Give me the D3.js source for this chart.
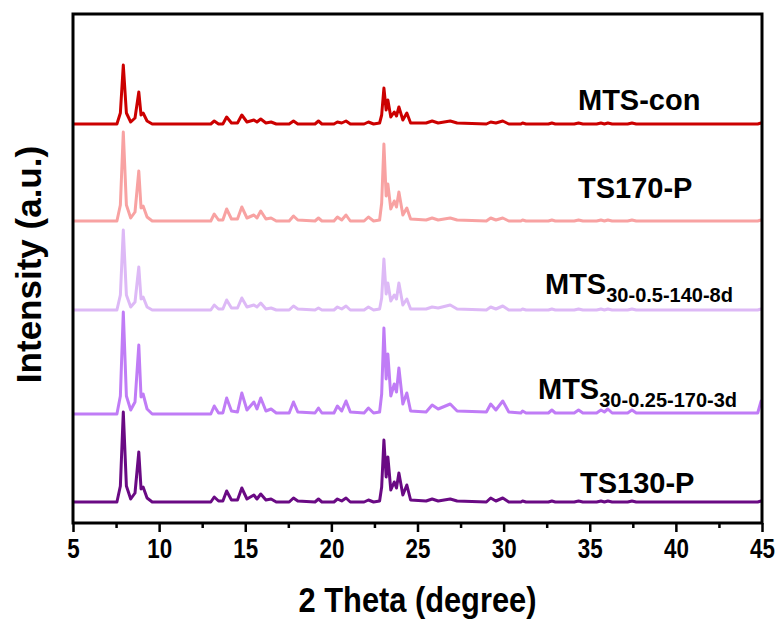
<!DOCTYPE html>
<html><head><meta charset="utf-8">
<script src="https://cdn.jsdelivr.net/npm/d3@7"></script>
<style>body{margin:0;background:#fff}</style>
</head><body>
<svg id="chart" width="784" height="619"></svg>
<script>
// ---- data ----
const seriesNames = ["MTS-con", "TS170-P", "MTS30-0.5-140-8d", "MTS30-0.25-170-3d", "TS130-P"];
const labelMain = ["MTS-con", "TS170-P", "MTS", "MTS", "TS130-P"];
const labelSub  = ["", "", "30-0.5-140-8d", "30-0.25-170-3d", ""];
const seriesColors = ["#cc0000", "#f8a2a2", "#ddb9f6", "#c07cf6", "#6a0a84"];
const seriesOffsets = [399, 302, 213, 109, 21];   // vertical stacking offsets (a.u.)
const xTicks = [5, 10, 15, 20, 25, 30, 35, 40, 45];
const xMinorTicks = [7.5, 12.5, 17.5, 22.5, 27.5, 32.5, 37.5, 42.5];

// 2θ positions of the polyline vertices (shared by all patterns)
const twoTheta = [
  5.0, 7.55, 7.75, 7.92, 8.1, 8.35, 8.6, 8.82, 8.95, 9.07, 9.3, 9.6,
  13.0, 13.2, 13.45, 13.7, 13.92, 14.2, 14.55, 14.8, 15.1, 15.5, 15.68, 15.9, 16.2, 16.5, 16.8,
  17.55, 17.8, 18.05, 19.05, 19.25, 19.45, 20.15, 20.35, 20.6, 20.85, 21.1, 21.9, 22.15, 22.45,
  22.8, 22.92, 23.05, 23.18, 23.28, 23.45, 23.65, 23.78, 23.92, 24.15, 24.38, 24.6,
  25.5, 25.85, 26.2, 26.9, 27.3, 29.0, 29.25, 29.55, 29.95, 30.3,
  31.0, 31.1, 31.3, 32.6, 32.8, 33.0, 34.1, 34.35, 34.6, 35.4, 35.65, 35.85, 36.05, 36.3, 37.2, 37.45, 37.7, 44.75, 44.95, 45.0
];
const intMTScon = [
  0, 0, 11, 59, 11, 2, 6, 32, 9, 11, 3, 0,
  0, 3, 0, 0, 7, 1, 1, 9, 2, 4, 2, 5, 1, 2, 0,
  0, 3, 0, 0, 3, 0, 0, 2, 1, 3, 0, 0, 2, 0,
  1, 9, 36, 14, 24, 7, 12, 8, 17, 4, 11, 1,
  1, 3, 1, 3, 1, 0, 2, 1, 3, 0,
  0, 1, 0, 0, 1, 0, 0, 1, 0, 0, 1, 0, 1, 0, 0, 1, 0, 0, 1, 1
];
const intTS170 = [
  0, 0, 16, 89, 16, 3, 9, 50, 13, 15, 4, 0,
  0, 7, 1, 1, 12, 2, 2, 14, 3, 6, 3, 10, 2, 3, 0,
  0, 5, 1, 0, 3, 0, 0, 4, 1, 6, 0, 0, 4, 0,
  1, 18, 77, 25, 37, 12, 20, 14, 29, 6, 13, 2,
  1, 3, 1, 3, 1, 0, 3, 1, 3, 0,
  0, 1, 0, 0, 1, 0, 0, 1, 0, 0, 1, 0, 1, 0, 0, 1, 0, 0, 1, 1
];
const intMTS05 = [
  0, 0, 15, 80, 15, 3, 8, 43, 11, 13, 3, 0,
  0, 5, 1, 1, 10, 2, 2, 12, 3, 5, 3, 7, 1, 2, 0,
  0, 4, 1, 0, 2, 0, 0, 3, 1, 4, 0, 0, 3, 0,
  1, 12, 51, 16, 27, 9, 15, 11, 27, 5, 11, 1,
  1, 3, 2, 5, 1, 0, 3, 1, 4, 0,
  0, 1, 0, 0, 1, 0, 0, 1, 0, 0, 1, 0, 1, 0, 0, 1, 0, 0, 1, 1
];
const intMTS025 = [
  0, 0, 18, 102, 18, 4, 12, 69, 17, 20, 5, 0,
  0, 8, 1, 1, 16, 3, 2, 21, 4, 12, 5, 16, 3, 5, 1,
  1, 12, 2, 1, 6, 1, 1, 8, 3, 13, 2, 1, 6, 1,
  2, 20, 86, 35, 60, 18, 30, 22, 46, 10, 21, 3,
  2, 9, 5, 10, 3, 2, 10, 4, 13, 2,
  1, 3, 1, 1, 4, 1, 1, 4, 1, 1, 4, 2, 5, 1, 1, 4, 1, 1, 13, 10
];
const intTS130 = [
  0, 0, 16, 90, 16, 3, 9, 50, 13, 15, 4, 0,
  0, 5, 1, 1, 11, 2, 2, 14, 3, 7, 3, 8, 2, 3, 0,
  0, 4, 1, 0, 3, 0, 0, 3, 1, 4, 0, 0, 2, 0,
  1, 15, 62, 25, 45, 12, 20, 14, 29, 7, 17, 2,
  1, 3, 1, 3, 1, 0, 4, 1, 4, 0,
  0, 1, 0, 0, 1, 0, 0, 1, 0, 0, 1, 0, 1, 0, 0, 1, 0, 0, 1, 1
];
const seriesValues = [intMTScon, intTS170, intMTS05, intMTS025, intTS130];

// ---- layout ----
const svg = d3.select("#chart");
const plot = {left: 73, top: 14, right: 762, bottom: 523};
const x = d3.scaleLinear().domain([5, 45]).range([plot.left, plot.right]);
const y = d3.scaleLinear().domain([0, 509]).range([plot.bottom, plot.top]);
const FONT = "'Liberation Sans', Arial, Helvetica, sans-serif";

svg.append("defs").append("clipPath").attr("id", "clip")
  .append("rect").attr("x", plot.left).attr("y", plot.top)
  .attr("width", plot.right - plot.left).attr("height", plot.bottom - plot.top);

const line = d3.line().x(d => x(d[0])).y(d => y(d[1]));
const gLines = svg.append("g").attr("clip-path", "url(#clip)");
seriesNames.forEach((name, i) => {
  const pts = twoTheta.map((t, k) => [t, seriesOffsets[i] + seriesValues[i][k]]);
  gLines.append("path").datum(pts)
    .attr("d", line).attr("fill", "none")
    .attr("stroke", seriesColors[i]).attr("stroke-width", 3)
    .attr("stroke-linejoin", "round").attr("stroke-linecap", "round");
});

// frame
svg.append("rect").attr("x", plot.left).attr("y", plot.top)
  .attr("width", plot.right - plot.left).attr("height", plot.bottom - plot.top)
  .attr("fill", "none").attr("stroke", "#000").attr("stroke-width", 3);

// x axis (major + minor ticks)
const gx = svg.append("g").attr("transform", `translate(0,${plot.bottom})`)
  .call(d3.axisBottom(x).tickValues(xTicks).tickSize(9).tickSizeOuter(0).tickPadding(6).tickFormat(d3.format("d")));
gx.select(".domain").remove();
gx.selectAll(".tick line").attr("stroke", "#000").attr("stroke-width", 2.5);
gx.selectAll(".tick text").attr("font-family", FONT).attr("font-weight", "bold")
  .attr("font-size", 28).attr("fill", "#000").attr("transform", "scale(0.8,1)");
const gxm = svg.append("g").attr("transform", `translate(0,${plot.bottom})`)
  .call(d3.axisBottom(x).tickValues(xMinorTicks).tickSize(5).tickSizeOuter(0).tickFormat(""));
gxm.select(".domain").remove();
gxm.selectAll(".tick line").attr("stroke", "#000").attr("stroke-width", 2.5);

// axis titles
svg.append("text").attr("transform", `translate(${(plot.left + plot.right) / 2},612) scale(0.88,1)`)
  .attr("text-anchor", "middle").attr("font-family", FONT).attr("font-weight", "bold")
  .attr("font-size", 35).text("2 Theta (degree)");
svg.append("text").attr("transform", `translate(41,${(plot.top + plot.bottom) / 2 - 4}) rotate(-90)`)
  .attr("text-anchor", "middle").attr("font-family", FONT).attr("font-weight", "bold")
  .attr("font-size", 35).text("Intensity (a.u.)");

// series labels
const labelPos = [[578, 110], [578, 198], [545, 294], [538, 399], [580, 493]];
seriesNames.forEach((name, i) => {
  const t = svg.append("text").attr("x", labelPos[i][0]).attr("y", labelPos[i][1])
    .attr("font-family", FONT).attr("font-weight", "bold").attr("font-size", 29).attr("fill", "#000");
  t.append("tspan").text(labelMain[i]);
  if (labelSub[i]) t.append("tspan").attr("dy", 8).attr("font-size", 20).text(labelSub[i]);
});
</script>
</body></html>
